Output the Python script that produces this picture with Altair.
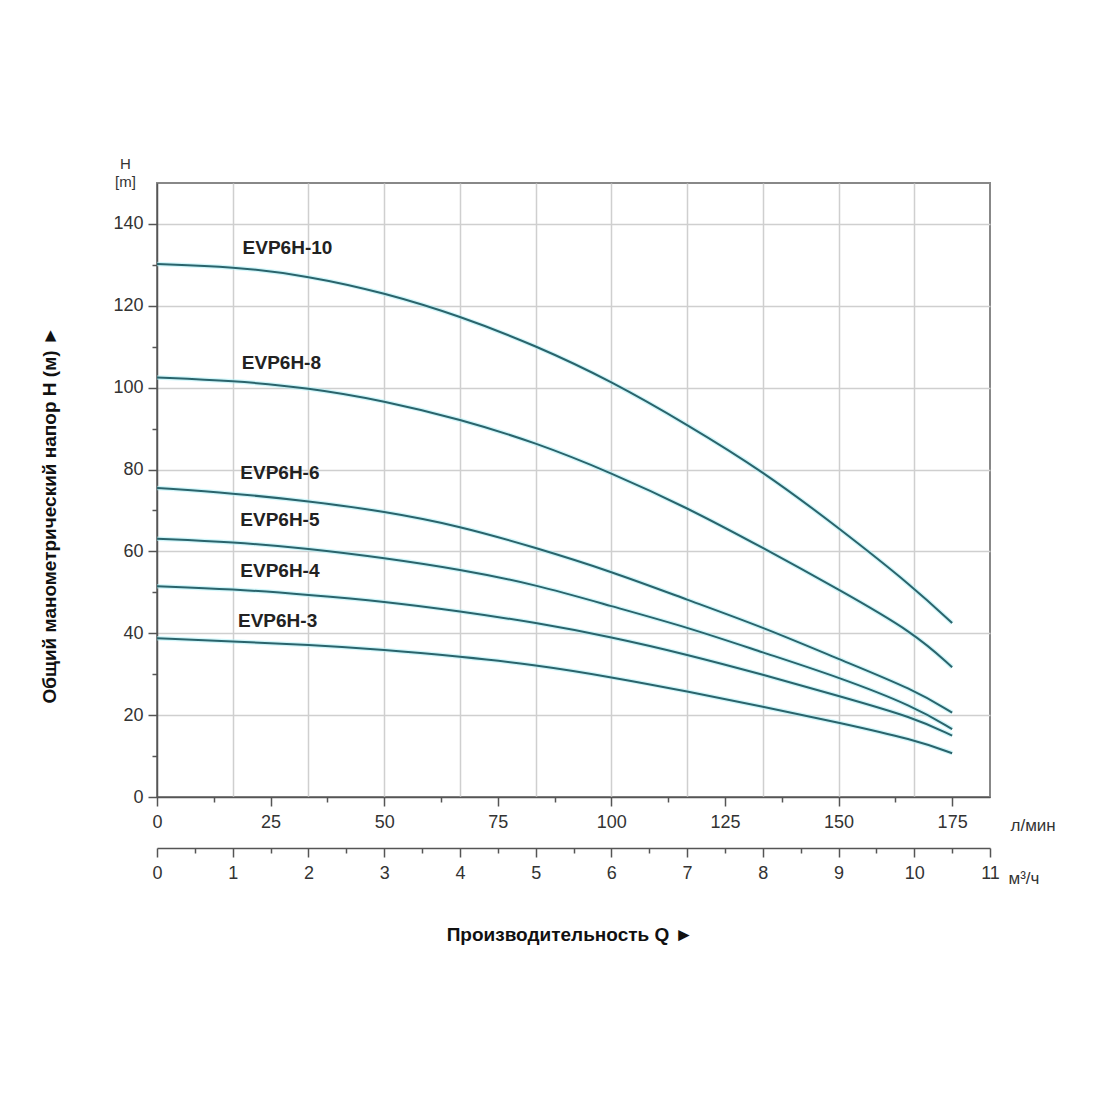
import altair as alt
import pandas as pd

# Flow in m3/h at which the curves were read
q_m3h = [0, 1, 2, 3, 4, 5, 6, 7, 8, 9, 10, 10.5]

h_evp10 = [130.2, 129.6, 127.3, 123.2, 117.5, 110.3, 101.6, 91.0, 79.6, 65.8, 51.1, 42.5]
h_evp8 = [102.5, 101.7, 100.0, 96.8, 92.3, 86.6, 79.2, 70.7, 60.9, 50.7, 40.1, 31.7]
h_evp6 = [75.5, 74.2, 72.3, 69.8, 66.2, 60.9, 55.1, 48.2, 41.5, 33.7, 26.2, 20.6]
h_evp5 = [63.1, 62.3, 60.7, 58.4, 55.6, 51.9, 46.6, 41.5, 35.3, 29.3, 22.1, 16.6]
h_evp4 = [51.5, 50.8, 49.4, 47.8, 45.4, 42.6, 39.1, 34.8, 29.9, 24.7, 19.4, 15.0]
h_evp3 = [38.8, 38.0, 37.2, 36.0, 34.3, 32.3, 29.3, 25.8, 22.1, 18.2, 14.0, 10.7]

models = ["EVP6H-10", "EVP6H-8", "EVP6H-6", "EVP6H-5", "EVP6H-4", "EVP6H-3"]
series = [h_evp10, h_evp8, h_evp6, h_evp5, h_evp4, h_evp3]

# Curve label anchors (m3/h, m)
label_q = [1.13, 1.12, 1.10, 1.10, 1.10, 1.07]
label_h = [134.0, 106.0, 79.1, 67.6, 55.1, 43.1]

# Axis ticks
y_ticks = [v for v in range(0, 150, 10)]
m3h_ticks = [i * 0.5 for i in range(0, 23)]
lmin_ticks = [i * 12.5 for i in range(0, 15)]
lmin_points = [0, 175]

rows = []
for m, s in zip(models, series):
    for q, h in zip(q_m3h, s):
        rows.append({"model": m, "q": q, "h": h})
df = pd.DataFrame(rows)
labels_df = pd.DataFrame({"model": models, "q": label_q, "h": label_h})
lmin_df = pd.DataFrame({"lmin": lmin_points, "h": [0, 0]})

FONT = "Liberation Sans"

x_enc = alt.X(
    "q:Q",
    scale=alt.Scale(domain=[0, 11], nice=False, zero=False),
    axis=alt.Axis(
        orient="bottom",
        offset=51,
        values=m3h_ticks,
        labelExpr="datum.value % 1 === 0 ? format(datum.value, 'd') : ''",
        labelFlush=False,
        tickSize={"condition": {"test": "datum.value % 1 === 0", "value": 9}, "value": 5},
        grid=True,
        gridColor={
            "condition": {"test": "datum.value % 1 === 0 && datum.value > 0 && datum.value < 11",
                          "value": "#cfcfcf"},
            "value": "transparent",
        },
        gridWidth=1.5,
        labelPadding=7,
        title="м³/ч",
        titleAngle=0,
        titleX=851,
        titleY=30,
        titleAlign="left",
        titleBaseline="middle",
        titleFont=FONT,
        titleFontSize=17,
        titleFontWeight="normal",
        titleColor="#333",
    ),
)

y_enc = alt.Y(
    "h:Q",
    scale=alt.Scale(domain=[0, 150], nice=False),
    axis=alt.Axis(
        values=y_ticks,
        labelExpr="datum.value % 20 === 0 ? datum.label : ''",
        labelFlush=False,
        tickSize={"condition": {"test": "datum.value % 20 === 0", "value": 9}, "value": 5},
        grid=True,
        gridColor={
            "condition": {"test": "datum.value % 20 === 0 && datum.value > 0", "value": "#cfcfcf"},
            "value": "transparent",
        },
        gridWidth=1.5,
        labelPadding=5,
        title=["H", "[m]"],
        titleAngle=0,
        titleX=-32,
        titleY=-27,
        titleAlign="center",
        titleBaseline="top",
        titleFont=FONT,
        titleFontSize=15,
        titleFontWeight="normal",
        titleLineHeight=18,
        titleColor="#333",
    ),
)

glow = alt.Chart(df).mark_line(
    color="#a9eef6", strokeWidth=4.5, opacity=0.55, interpolate="basis"
).encode(x=x_enc, y=y_enc, detail="model:N")

lines = alt.Chart(df).mark_line(
    color="#2a646c", strokeWidth=2, interpolate="basis"
).encode(x=x_enc, y=y_enc, detail="model:N")

labels = alt.Chart(labels_df).mark_text(
    align="left", baseline="middle", font=FONT, fontSize=19, fontWeight="bold", color="#222"
).encode(x=x_enc, y=y_enc, text="model:N")

y_title = alt.Chart(pd.DataFrame({"t": ["Общий манометрический напор H (м)  ►"]})).mark_text(
    angle=270, align="center", baseline="middle", font=FONT, fontSize=19,
    fontWeight="bold", color="#111"
).encode(x=alt.value(-107), y=alt.value(332), text="t:N")

x_title = alt.Chart(pd.DataFrame({"t": ["Производительность Q  ►"]})).mark_text(
    align="center", baseline="middle", font=FONT, fontSize=19,
    fontWeight="bold", color="#111"
).encode(x=alt.value(413), y=alt.value(752), text="t:N")

main = alt.layer(glow, lines, labels, y_title, x_title)

lmin_layer = alt.Chart(lmin_df).mark_point(opacity=0).encode(
    x=alt.X(
        "lmin:Q",
        scale=alt.Scale(domain=[0, 11 * 1000 / 60], nice=False, zero=False),
        axis=alt.Axis(
            orient="bottom",
            offset=0,
            values=lmin_ticks,
            labelExpr="datum.value % 25 === 0 ? format(datum.value, 'd') : ''",
            labelFlush=False,
            tickSize={"condition": {"test": "datum.value % 25 === 0", "value": 9}, "value": 5},
            grid=False,
            labelPadding=7,
            title="л/мин",
            titleAngle=0,
            titleX=853,
            titleY=28,
            titleAlign="left",
            titleBaseline="middle",
            titleFont=FONT,
            titleFontSize=17,
            titleFontWeight="normal",
            titleColor="#333",
        ),
    ),
    y=y_enc,
)

chart = (
    alt.layer(main, lmin_layer)
    .resolve_scale(x="independent")
    .properties(
        width=833,
        height=614,
        padding={"left": 149, "top": 175, "right": 100, "bottom": 200},
        autosize=alt.AutoSizeParams(type="none"),
        background="white",
    )
    .configure_axis(
        labelFont=FONT,
        labelFontSize=18,
        labelColor="#333",
        domainColor="#555",
        tickColor="#555",
        domainWidth=1.5,
        tickWidth=1.5,
    )
    .configure_view(stroke="#888", strokeWidth=2)
)

chart.save("out.html", embed_options={"renderer": "svg", "actions": False})
